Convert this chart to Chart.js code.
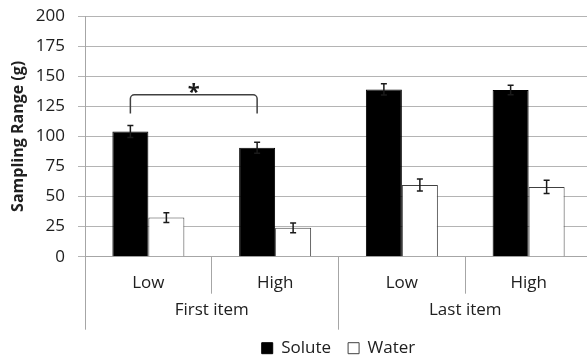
<!DOCTYPE html>
<html>
<head>
<meta charset="utf-8">
<script src="https://cdn.jsdelivr.net/npm/chart.js@4/dist/chart.umd.min.js"></script>
<style>
  html, body { margin: 0; padding: 0; background: #fff; }
  #wrap { width: 587px; height: 358px; overflow: hidden; }
</style>
</head>
<body>
<div id="wrap"><canvas id="myChart" width="600" height="358"></canvas></div>
<script>
const categories = ['Low', 'High', 'Low', 'High'];
const groups = ['First item', 'Last item'];
const solute = [104, 90.5, 139, 138.5];
const soluteErr = [5, 4.5, 4.7, 4];
const water = [32.5, 24, 59.5, 58];
const waterErr = [4, 4, 5, 5.5];

// bracket between the two "First item" solute bars
const bracketFrom = 0, bracketTo = 1;
const bracketTop = 134.5, bracketFoot = 119;
const starValue = 141;

const textColor = '#202020';
const axisGray = '#a6a6a6';
Chart.defaults.font.family = "'Open Sans', sans-serif";

const errorBars = {
  id: 'errorBars',
  afterDatasetsDraw(chart) {
    const ctx = chart.ctx;
    const y = chart.scales.y;
    const errs = [soluteErr, waterErr];
    ctx.save();
    ctx.strokeStyle = '#1a1a1a';
    ctx.lineWidth = 1.5;
    chart.data.datasets.forEach((ds, i) => {
      chart.getDatasetMeta(i).data.forEach((bar, j) => {
        const v = ds.data[j], e = errs[i][j];
        const top = y.getPixelForValue(v + e), bot = y.getPixelForValue(v - e);
        ctx.beginPath();
        ctx.moveTo(bar.x, top); ctx.lineTo(bar.x, bot);
        ctx.moveTo(bar.x - 3, top); ctx.lineTo(bar.x + 3, top);
        ctx.moveTo(bar.x - 3, bot); ctx.lineTo(bar.x + 3, bot);
        ctx.stroke();
      });
    });

    const bars = chart.getDatasetMeta(0).data;
    const x0 = bars[bracketFrom].x, x1 = bars[bracketTo].x;
    const yt = y.getPixelForValue(bracketTop), yf = y.getPixelForValue(bracketFoot);
    ctx.strokeStyle = '#404040';
    ctx.beginPath();
    ctx.moveTo(x0, yf);
    ctx.arcTo(x0, yt, x1, yt, 4);
    ctx.arcTo(x1, yt, x1, yf, 4);
    ctx.lineTo(x1, yf);
    ctx.stroke();

    ctx.fillStyle = '#1a1a1a';
    ctx.font = "bold 22px 'Open Sans'";
    ctx.textAlign = 'center';
    ctx.textBaseline = 'middle';
    ctx.fillText('*', (x0 + x1) / 2, y.getPixelForValue(starValue) + 6);
    ctx.restore();
  }
};

new Chart(document.getElementById('myChart'), {
  type: 'bar',
  data: {
    labels: categories,
    datasets: [
      { label: 'Solute', data: solute, backgroundColor: '#000', borderColor: '#000', borderWidth: 1 },
      { label: 'Water', data: water, backgroundColor: '#fff', borderColor: '#404040', borderWidth: 1 }
    ]
  },
  options: {
    responsive: false,
    animation: false,
    devicePixelRatio: 1,
    layout: { padding: { top: 16, right: 8, left: 0, bottom: 0 } },
    datasets: { bar: { categoryPercentage: 0.568, barPercentage: 1 } },
    plugins: {
      tooltip: { enabled: false },
      legend: {
        position: 'bottom',
        fullSize: false,
        maxHeight: 35.3,
        labels: {
          boxWidth: 11, boxHeight: 11, padding: 17, color: textColor,
          font: { size: 17, lineHeight: 0.65 }
        }
      }
    },
    scales: {
      x: {
        grid: { offset: true, drawOnChartArea: false, tickLength: 37, color: axisGray },
        border: { color: axisGray },
        ticks: { padding: -21, color: textColor, font: { size: 17 } },
        afterFit(s) { s.height = 36; }
      },
      x2: {
        type: 'category',
        labels: groups,
        position: 'bottom',
        offset: true,
        grid: { offset: true, drawOnChartArea: false, tickLength: 37, color: axisGray },
        border: { display: false },
        ticks: { padding: -30, color: textColor, font: { size: 17 } },
        afterFit(s) { s.height = 30; }
      },
      y: {
        min: 0,
        max: 200,
        ticks: { stepSize: 25, padding: 13, color: textColor, font: { size: 17 } },
        grid: { color: '#b4b4b4', tickLength: 7 },
        border: { color: axisGray },
        title: {
          display: true, text: 'Sampling Range (g)', color: textColor,
          font: { size: 16, weight: 'bold' }, padding: { top: 9, bottom: 0 }
        },
        afterFit(s) { s.width = 85; s.paddingTop = 0; s.paddingBottom = 0; }
      }
    }
  },
  plugins: [errorBars]
});
</script>
</body>
</html>
